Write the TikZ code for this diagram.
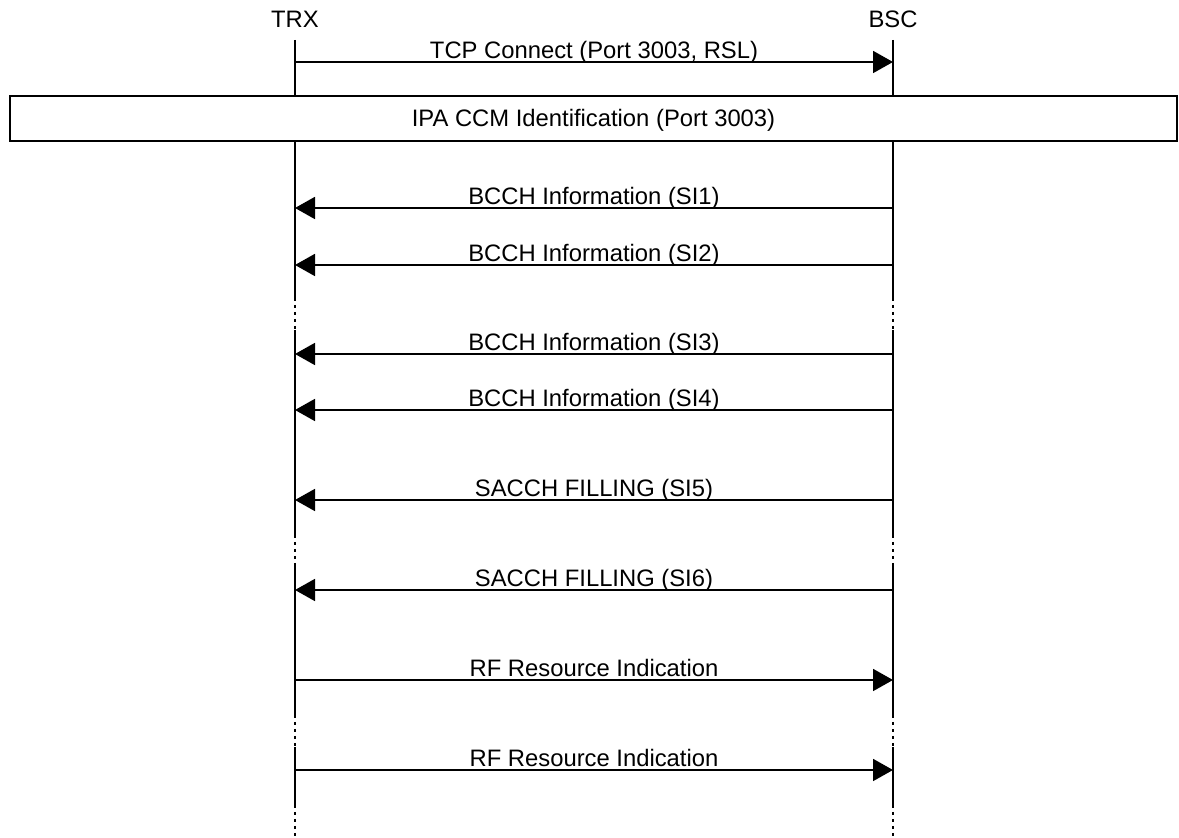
\documentclass[tikz,border=0pt]{standalone}
\usepackage{fontspec}
\setmainfont{Liberation Sans}
\usetikzlibrary{arrows.meta}

\begin{document}
\begin{tikzpicture}[x=0.5pt,y=-0.5pt,
    actor/.style={font=\fontsize{11.9}{14}\selectfont,inner sep=0pt,anchor=base},
    lbl/.style={font=\fontsize{11.9}{14}\selectfont,inner sep=0pt,anchor=base,yshift=1.5pt},
    life/.style={line width=0.9pt},
    gap/.style={line width=0.9pt,dash pattern=on 1.5pt off 2pt},
    msg/.style={line width=0.9pt,-{Triangle[length=10pt,width=11pt]}},
    bar/.style={draw,line width=0.9pt,fill=white,minimum width=583.5pt,minimum height=22.5pt,
                font=\fontsize{11.9}{14}\selectfont,text height=8.5pt,text depth=0pt}]
    \useasboundingbox (0,0) rectangle (1179,838);
    \node[actor] (trx) at (295,28) {TRX};
    \node[actor] (bsc) at (893,28) {BSC};
    % lifelines, dotted where time is skipped
    \foreach \a in {trx,bsc} {
      \draw[life] (\a |- 0,40) -- (\a |- 0,96);
      \draw[life] (\a |- 0,141) -- (\a |- 0,298);
      \draw[gap] (\a |- 0,298) -- (\a |- 0,330);
      \draw[life] (\a |- 0,330) -- (\a |- 0,535);
      \draw[gap] (\a |- 0,535) -- (\a |- 0,563);
      \draw[life] (\a |- 0,563) -- (\a |- 0,715);
      \draw[gap] (\a |- 0,715) -- (\a |- 0,747);
      \draw[life] (\a |- 0,747) -- (\a |- 0,805);
      \draw[gap] (\a |- 0,805) -- (\a |- 0,838);
    }
    \coordinate (r0) at (0,62);
    \coordinate (r1) at (0,208);
    \coordinate (r2) at (0,265);
    \coordinate (r3) at (0,354);
    \coordinate (r4) at (0,410);
    \coordinate (r5) at (0,500);
    \coordinate (r6) at (0,590);
    \coordinate (r7) at (0,680);
    \coordinate (r8) at (0,770);
    \draw[msg] (trx |- r0) -- node[lbl] {TCP Connect (Port 3003, RSL)} (bsc |- r0);
    \node[bar] (ipa) at (593.5,118.5) {IPA CCM Identification (Port 3003)};
    \draw[msg] (bsc |- r1) -- node[lbl] {BCCH Information (SI1)} (trx |- r1);
    \draw[msg] (bsc |- r2) -- node[lbl] {BCCH Information (SI2)} (trx |- r2);
    \draw[msg] (bsc |- r3) -- node[lbl] {BCCH Information (SI3)} (trx |- r3);
    \draw[msg] (bsc |- r4) -- node[lbl] {BCCH Information (SI4)} (trx |- r4);
    \draw[msg] (bsc |- r5) -- node[lbl] {SACCH FILLING (SI5)} (trx |- r5);
    \draw[msg] (bsc |- r6) -- node[lbl] {SACCH FILLING (SI6)} (trx |- r6);
    \draw[msg] (trx |- r7) -- node[lbl] {RF Resource Indication} (bsc |- r7);
    \draw[msg] (trx |- r8) -- node[lbl] {RF Resource Indication} (bsc |- r8);
  \end{tikzpicture}
\end{document}
